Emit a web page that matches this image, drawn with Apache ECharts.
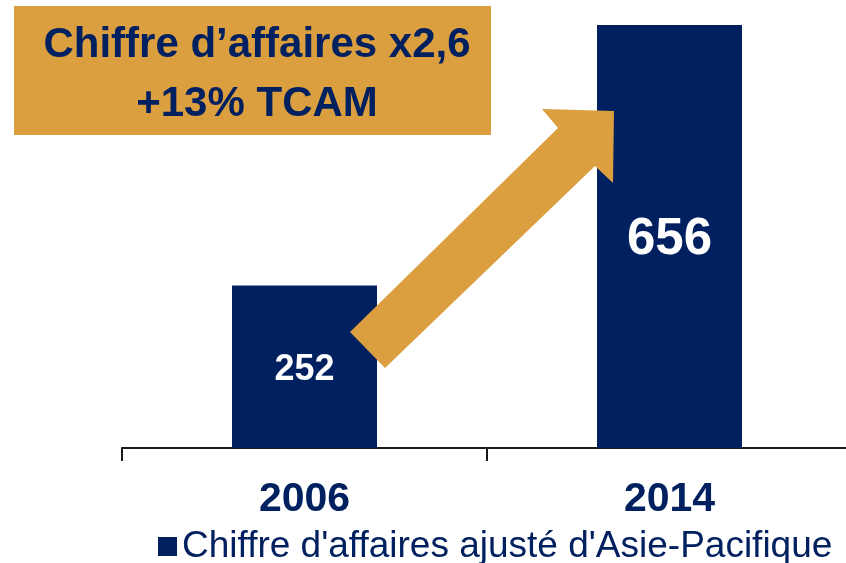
<!DOCTYPE html>
<html>
<head>
<meta charset="utf-8">
<script src="https://cdn.jsdelivr.net/npm/echarts@6/dist/echarts.min.js"></script>
<style>
  html, body { margin: 0; padding: 0; background: #fff; }
  #main { width: 846px; height: 563px; }
</style>
</head>
<body>
<div id="main"></div>
<script>
  // données
  var years = ['2006', '2014'];
  var revenue = [252, 656];
  var seriesName = "Chiffre d'affaires ajusté d'Asie-Pacifique";
  var headline = 'Chiffre d\u2019affaires x2,6\n+13% TCAM';

  var navy = '#002060';
  var gold = '#DB9F3F';

  var myChart = echarts.init(document.getElementById('main'));

  myChart.setOption({
    animation: false,
    title: {
      text: headline,
      left: 252,
      top: 11,
      textAlign: 'center',
      z: 6,
      textStyle: {
        fontFamily: 'Liberation Sans',
        fontWeight: 'bold',
        fontSize: 42,
        lineHeight: 59,
        color: navy
      }
    },
    legend: {
      left: 153,
      top: 523,
      icon: 'rect',
      itemWidth: 19,
      itemHeight: 19,
      itemGap: 5,
      selectedMode: false,
      textStyle: {
        fontFamily: 'Liberation Sans',
        fontSize: 37,
        color: navy,
        padding: [0, 0, 0, 0]
      },
      data: [seriesName]
    },
    grid: {
      left: 122,
      right: -6,
      top: 25,
      bottom: 115,
      outerBoundsMode: 'none'
    },
    xAxis: {
      type: 'category',
      data: years,
      axisLine: {
        lineStyle: { color: '#1a1a1a', width: 2 }
      },
      axisTick: {
        show: true,
        length: 13,
        lineStyle: { color: '#1a1a1a', width: 2 }
      },
      axisLabel: {
        margin: 31,
        fontFamily: 'Liberation Sans',
        fontWeight: 'bold',
        fontSize: 41,
        color: navy
      }
    },
    yAxis: {
      type: 'value',
      min: 0,
      max: 656,
      show: false
    },
    graphic: [
      {
        type: 'rect',
        z: 1,
        shape: { x: 14, y: 6, width: 477, height: 129 },
        style: { fill: gold }
      },
      {
        // flèche de croissance
        type: 'polygon',
        z: 10,
        shape: {
          points: [[350, 332], [558, 128], [542, 109], [614, 111], [613, 183], [595, 166], [385, 368]]
        },
        style: { fill: gold }
      }
    ],
    series: [{
      name: seriesName,
      type: 'bar',
      barWidth: 145,
      itemStyle: { color: navy },
      label: {
        show: true,
        position: 'inside',
        offset: [0, 3],
        fontFamily: 'Liberation Sans',
        fontWeight: 'bold',
        color: '#fff',
        fontSize: 36
      },
      data: [
        { value: revenue[0] },
        { value: revenue[1], label: { fontSize: 51 } }
      ]
    }]
  });
</script>
</body>
</html>
